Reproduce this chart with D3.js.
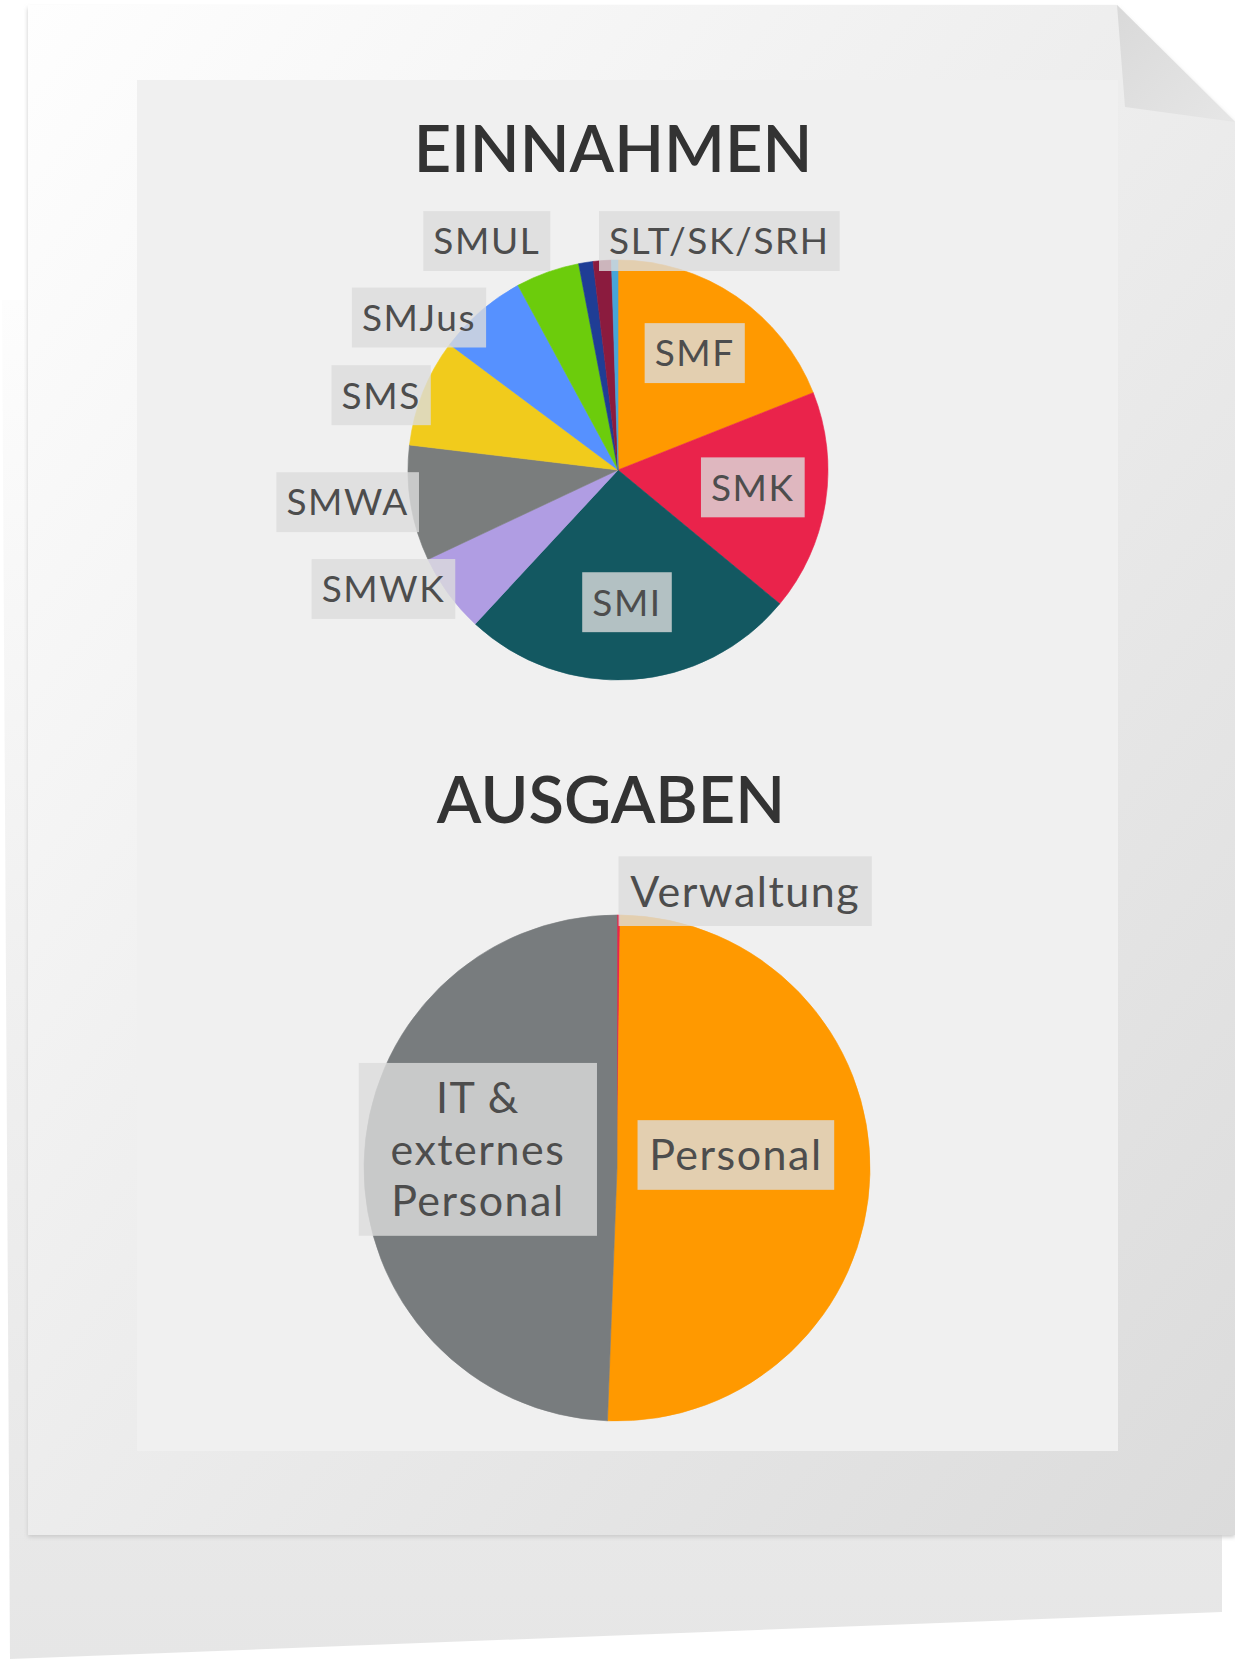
<!DOCTYPE html>
<html>
<head>
<meta charset="utf-8">
<script src="https://cdn.jsdelivr.net/npm/d3@7"></script>
<style>
  body { margin: 0; background: #fff; }
  svg { display: block; }
</style>
</head>
<body>
<div id="chart"></div>
<script>
// Einnahmen (income) shares, clockwise from 12 o'clock, in percent
const incomeCategories = ["SMF", "SMK", "SMI", "SMWK", "SMWA", "SMS", "SMJus", "SMUL", "SLT", "SK", "SRH"];
const incomeShares = [19.0, 17.0, 25.9, 6.1, 8.9, 8.3, 6.9, 4.9, 1.1, 1.4, 0.5];
const incomeColors = ["#ff9900", "#ea234b", "#135861", "#b09de3", "#7a7d7d", "#f1cb1c", "#5691ff", "#6ccc0c", "#1f3d95", "#8b1b3e", "#46a5d8"];
// slices sharing one label
const incomeLabelGroups = [["SMF"], ["SMK"], ["SMI"], ["SMWK"], ["SMWA"], ["SMS"], ["SMJus"], ["SMUL"], ["SLT", "SK", "SRH"]];

// Ausgaben (expenses)
const expenseCategories = ["Verwaltung", "Personal", "IT & externes Personal"];
const expenseShares = [0.2, 50.4, 49.4];
const expenseColors = ["#e8254a", "#ff9900", "#787c7e"];
const expenseLabelGroups = [["Verwaltung"], ["Personal"], ["IT & externes Personal"]];

const W = 1235, H = 1659;
const font = "Lato, 'Open Sans', sans-serif";

const svg = d3.select("#chart").append("svg")
  .attr("width", W)
  .attr("height", H);

const defs = svg.append("defs");

const backGrad = defs.append("linearGradient").attr("id", "back").attr("x1", 0).attr("y1", 0).attr("x2", 0).attr("y2", 1);
backGrad.append("stop").attr("offset", "0").attr("stop-color", "#fdfdfd");
backGrad.append("stop").attr("offset", "0.5").attr("stop-color", "#f0f0f0");
backGrad.append("stop").attr("offset", "1").attr("stop-color", "#e6e6e6");

const frontGrad = defs.append("linearGradient").attr("id", "front").attr("x1", 0).attr("y1", 0).attr("x2", 1).attr("y2", 1);
frontGrad.append("stop").attr("offset", "0").attr("stop-color", "#fefefe");
frontGrad.append("stop").attr("offset", "0.45").attr("stop-color", "#eeeeee");
frontGrad.append("stop").attr("offset", "1").attr("stop-color", "#dbdbdb");

const foldGrad = defs.append("linearGradient").attr("id", "fold").attr("x1", 0).attr("y1", 0).attr("x2", 1).attr("y2", 1);
foldGrad.append("stop").attr("offset", "0").attr("stop-color", "#d9d9d9");
foldGrad.append("stop").attr("offset", "1").attr("stop-color", "#e6e6e6");

const blur = defs.append("filter").attr("id", "blur").attr("x", "-5%").attr("y", "-5%").attr("width", "110%").attr("height", "110%");
blur.append("feGaussianBlur").attr("stdDeviation", 2);

// paper sheets
const paper = svg.append("g");
paper.append("path")
  .attr("d", "M2,300 L1222,300 L1222,1612 L10,1659 Z")
  .attr("fill", "url(#back)");
paper.append("path")
  .attr("d", "M28,8 L1117,8 L1235,124 L1235,1537 L28,1537 Z")
  .attr("fill", "#c9c9c9")
  .attr("filter", "url(#blur)");
paper.append("path")
  .attr("d", "M28,5 L1117,5 L1235,122 L1235,1535 L28,1535 Z")
  .attr("fill", "url(#front)");
paper.append("path")
  .attr("d", "M1117,5 L1125,107 L1235,122 Z")
  .attr("fill", "url(#fold)");
paper.append("rect")
  .attr("x", 137).attr("y", 80)
  .attr("width", 981).attr("height", 1371)
  .attr("fill", "#f0f0f0");

function title(text, x, y) {
  svg.append("text")
    .attr("x", x).attr("y", y)
    .attr("text-anchor", "middle")
    .attr("font-family", font)
    .attr("font-weight", 600)
    .attr("font-size", 65)
    .attr("fill", "#333")
    .text(text);
}

function wrapWords(textEl, words, maxWidth) {
  const lines = [];
  let line = [];
  for (const w of words) {
    const trial = line.concat(w).join(" ");
    textEl.text(trial);
    if (line.length && textEl.node().getComputedTextLength() > maxWidth) {
      lines.push(line.join(" "));
      line = [w];
    } else {
      line.push(w);
    }
  }
  if (line.length) lines.push(line.join(" "));
  textEl.text(null);
  return lines;
}

function drawPie(o) {
  const g = svg.append("g").attr("transform", `translate(${o.cx},${o.cy})`);
  const rows = o.categories.map((c, i) => ({ name: c, value: o.shares[i], color: o.colors[i] }));
  const arcs = d3.pie().sort(null).value((d) => d.value)(rows);
  const arc = d3.arc().innerRadius(0).outerRadius(o.r);

  g.selectAll("path.slice")
    .data(arcs)
    .join("path")
    .attr("class", "slice")
    .attr("d", arc)
    .attr("fill", (d) => d.data.color)
    .attr("stroke", (d) => d.data.color)
    .attr("stroke-width", 0.6);

  const fs = o.fontSize;
  const pad = 0.27 * fs;
  const lh = 1.2 * fs;

  for (const names of o.groups) {
    const members = arcs.filter((a) => names.includes(a.data.name));
    const a0 = d3.min(members, (a) => a.startAngle);
    const a1 = d3.max(members, (a) => a.endAngle);
    const share = d3.sum(members, (a) => a.value);
    const mid = (a0 + a1) / 2;
    const sin = Math.sin(mid), cos = Math.cos(mid);

    const lg = g.append("g");
    const rect = lg.append("rect").attr("fill", "#dcdcdc").attr("fill-opacity", 0.8);
    const text = lg.append("text")
      .attr("font-family", font)
      .attr("font-size", fs)
      .attr("letter-spacing", o.spacing)
      .attr("fill", "#4d4d4d")
      .attr("text-anchor", "middle");

    const label = names.join("/");
    const lines = o.wrapWidth ? wrapWords(text, label.split(" "), o.wrapWidth) : [label];
    lines.forEach((l) => text.append("tspan").attr("x", 0).text(l));
    const textW = d3.max(text.selectAll("tspan").nodes(), (n) => n.getComputedTextLength());
    const boxW = (lines.length > 1 ? o.wrapWidth : textW) + 2 * pad;
    const boxH = (lines.length - 1) * lh + 1.62 * fs;

    let x, y;
    if (share >= 10) {
      const rr = o.r * (sin < 0 ? o.insideR[1] : o.insideR[0]);
      x = sin * rr;
      y = -cos * rr + o.labelDy;
    } else {
      const px = sin * o.r * 0.96;
      const py = -cos * o.r * 0.96;
      let anchorStart = sin >= 0;
      y = py;
      if (cos > 0.9) {
        y = -o.r - (boxH / 2 - 11);
        anchorStart = sin > -0.2;
      }
      x = anchorStart ? px + boxW / 2 : px - boxW / 2;
    }

    rect.attr("x", x - boxW / 2).attr("y", y - boxH / 2)
      .attr("width", boxW).attr("height", boxH);
    text.selectAll("tspan")
      .attr("x", x)
      .attr("y", (d, i) => y - ((lines.length - 1) / 2) * lh + i * lh + 0.36 * fs);
  }
}

title("EINNAHMEN", 613, 172);
drawPie({
  categories: incomeCategories, shares: incomeShares, colors: incomeColors, groups: incomeLabelGroups,
  cx: 618, cy: 470, r: 210, fontSize: 37, spacing: 1.6, insideR: [0.65, 0.65], labelDy: -4, wrapWidth: null
});

title("AUSGABEN", 611, 823);
drawPie({
  categories: expenseCategories, shares: expenseShares, colors: expenseColors, groups: expenseLabelGroups,
  cx: 617, cy: 1168, r: 253, fontSize: 43, spacing: 1.5, insideR: [0.47, 0.55], labelDy: -16, wrapWidth: 215
});
</script>
</body>
</html>
